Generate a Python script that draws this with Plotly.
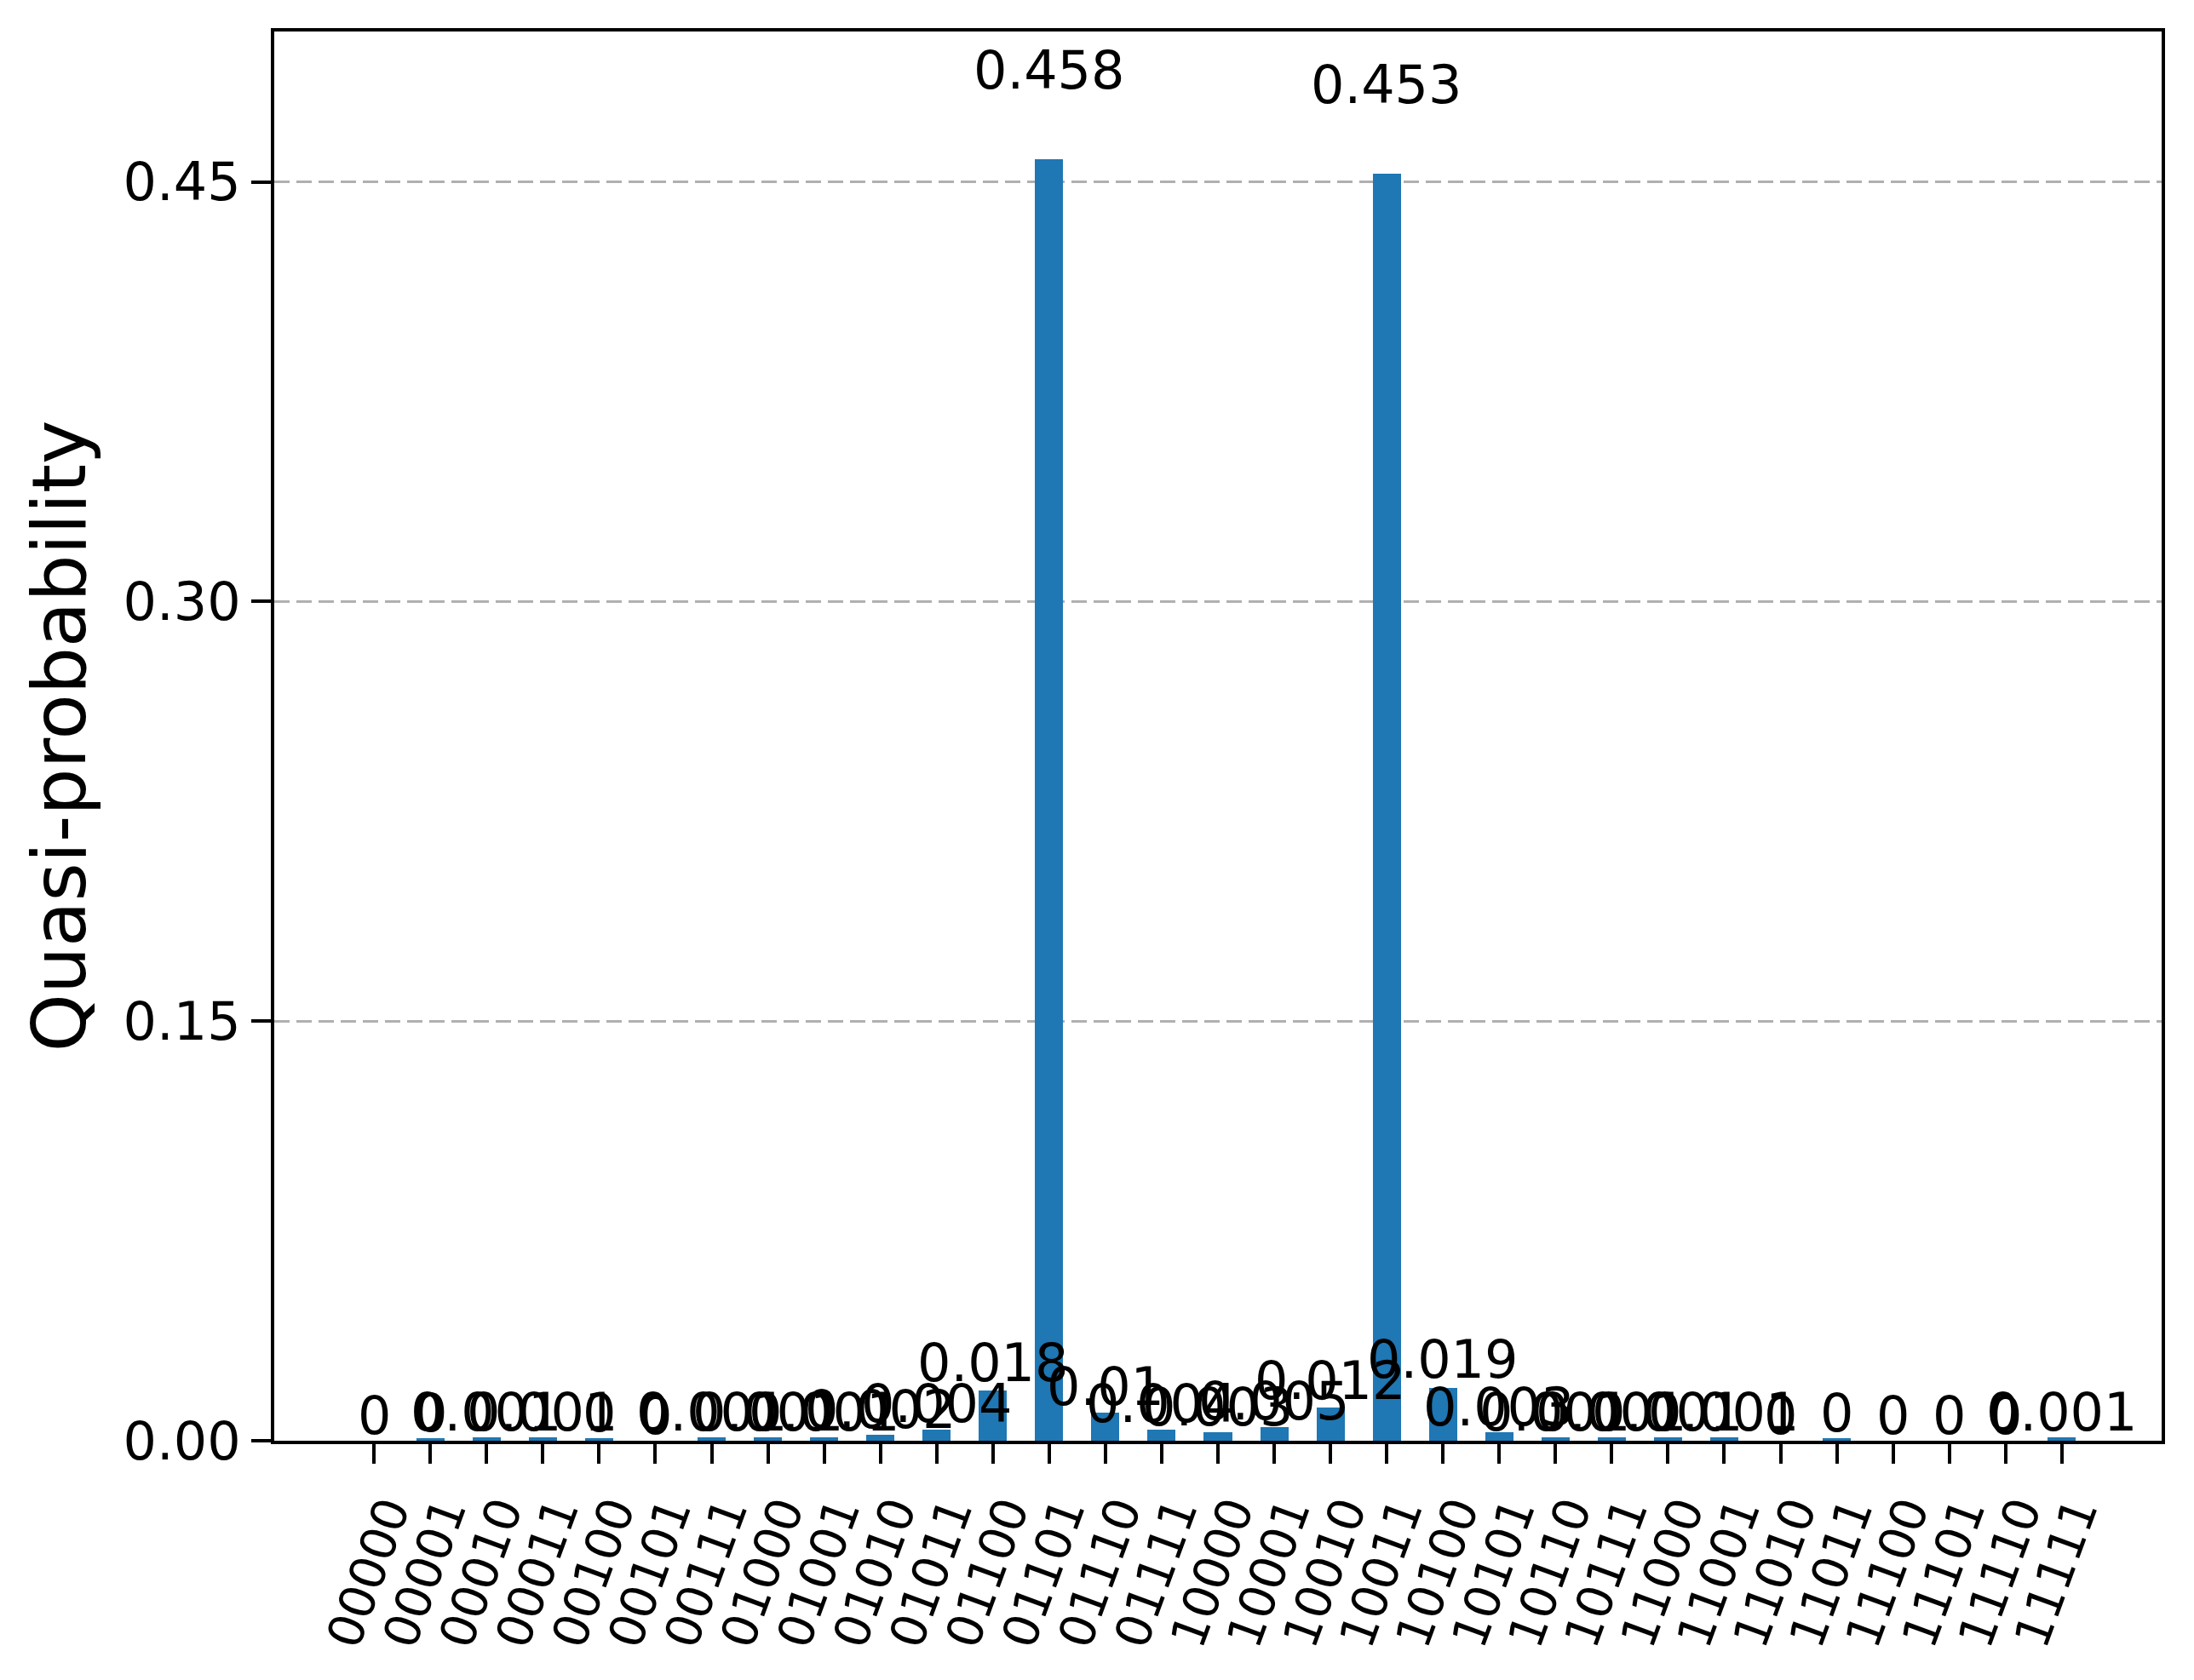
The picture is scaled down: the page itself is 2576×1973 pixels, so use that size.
import plotly.graph_objects as go

# ---- data ----
states = ["00000", "00001", "00010", "00011", "00100", "00101", "00111", "01000",
          "01001", "01010", "01011", "01100", "01101", "01110", "01111", "10000",
          "10001", "10010", "10011", "10100", "10101", "10110", "10111", "11000",
          "11001", "11010", "11011", "11100", "11101", "11110", "11111"]
quasi_probs = [0, 0.0009, 0.0012, 0.0012, 0.0009, 0, 0.0012, 0.0012,
               0.0012, 0.002, 0.004, 0.018, 0.458, 0.010, 0.004, 0.003,
               0.005, 0.012, 0.453, 0.019, 0.003, 0.0012, 0.0012, 0.0012,
               0.0012, 0, 0.0009, 0, 0, 0, 0.0012]
y_tick_vals = [0.0, 0.15, 0.30, 0.45]
y_tick_text = ["0.00", "0.15", "0.30", "0.45"]
y_title = "Quasi-probability"


def bar_label(v):
    return "0" if v < 1e-3 else f"{round(v, 3):g}"


FONT = "DejaVu Sans"
BLUE = "#1f77b4"

positions = list(range(len(states)))

fig = go.Figure()
fig.add_trace(go.Bar(x=positions, y=quasi_probs, width=0.5,
                     marker=dict(color=BLUE, line=dict(width=0)),
                     hoverinfo="skip"))

annotations = []
for i, v in zip(positions, quasi_probs):
    annotations.append(dict(x=i, y=1.05 * v, xref="x", yref="y",
                            text=bar_label(v), showarrow=False,
                            yanchor="bottom", xanchor="center",
                            font=dict(family=FONT, size=62, color="black"),
                            borderpad=0, yshift=-8))

fig.update_layout(
    width=2576, height=1973,
    margin=dict(l=322, r=38, t=37, b=281, pad=0),
    paper_bgcolor="white", plot_bgcolor="white",
    showlegend=False,
    bargap=0,
    font=dict(family=FONT, size=57, color="black"),
    annotations=annotations,
)
fig.update_xaxes(
    type="linear", range=[-1.775, 31.775],
    tickmode="array", tickvals=positions, ticktext=states,
    showline=True, mirror=True, linecolor="black", linewidth=4,
    ticks="outside", ticklen=23, tickwidth=4, tickcolor="black",
    tickangle=-70, tickfont=dict(family=FONT, size=57, color="black"),
    ticklabelshift=16,
    showgrid=False, zeroline=False,
)
fig.update_yaxes(
    range=[0, 0.5038],
    tickmode="array", tickvals=y_tick_vals, ticktext=y_tick_text,
    showline=True, mirror=True, linecolor="black", linewidth=4,
    ticks="outside", ticklen=23, tickwidth=4, tickcolor="black",
    tickfont=dict(family=FONT, size=62, color="black"),
    showgrid=True, gridcolor="#b0b0b0", gridwidth=3, griddash="18px,8px",
    zeroline=False,
    title=dict(text=y_title, font=dict(family=FONT, size=87, color="black"),
               standoff=16),
)

fig.write_html("out.html", config={"displayModeBar": False},
               post_script="document.body.style.margin='0';document.body.style.overflow='hidden';")
